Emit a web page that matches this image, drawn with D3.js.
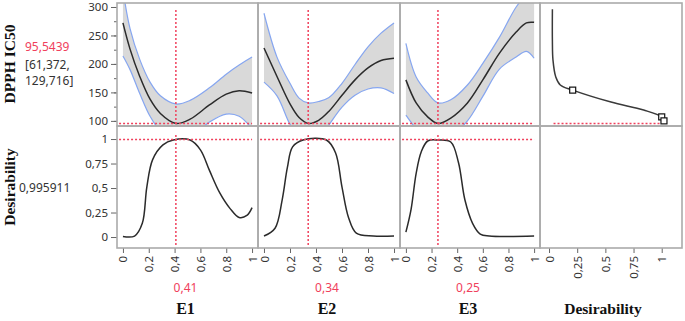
<!DOCTYPE html>
<html>
<head>
<meta charset="utf-8">
<script src="https://cdn.jsdelivr.net/npm/d3@7"></script>
<style>
  body { margin: 0; background: #fff; }
  .tick text { font-family: "Noto Sans", sans-serif; font-size: 11.5px; fill: #333; }
  .tick line { stroke: #666; }
  .bold-label { font-family: "Liberation Serif", serif; font-weight: bold; fill: #111; }
  .val { font-family: "Noto Sans", sans-serif; font-size: 12px; fill: #333; }
</style>
</head>
<body>
<div id="profiler"></div>
<script>
// factor names and current settings
const factors = ["E1", "E2", "E3"];
const current = [0.41, 0.34, 0.25];
const currentLabels = ["0,41", "0,34", "0,25"];
const predicted = 95.5439;
const predictedCI = ["[61,372,", "129,716]"];
const desirNow = 0.995911;

// prediction traces (x, DPPH IC50)
const e1X = [0, 0.055, 0.13, 0.21, 0.29, 0.41, 0.52, 0.67, 0.8, 0.9, 1.0];
const e1Mean = [272, 226, 178, 138, 113, 95.5, 103, 128, 147, 153, 149];
const e1Hi = [330, 262, 208, 168, 144, 129.7, 136, 158, 182, 198, 212];
const e1Lo = [214, 190, 148, 108, 82, 61.4, 70, 98, 112, 108, 86];

const e2X = [0, 0.1, 0.2, 0.27, 0.34, 0.42, 0.5, 0.6, 0.7, 0.8, 0.9, 1.0];
const e2Mean = [228, 178, 130, 106, 95.5, 101, 117, 145, 172, 193, 206, 210];
const e2Hi = [289, 212, 166, 140, 131.5, 134, 141, 166, 199, 230, 254, 272];
const e2Lo = [168, 144, 94, 72, 59.6, 68, 93, 124, 145, 156, 158, 148];

const e3X = [0, 0.08, 0.17, 0.25, 0.35, 0.48, 0.6, 0.73, 0.86, 0.94, 1.0];
const e3Mean = [172, 131.5, 107, 95.5, 105, 131.5, 172, 219, 256, 272, 273];
const e3Hi = [236, 177, 149, 131.5, 137, 163, 201, 247, 300, 322, 336];
const e3Lo = [110, 86, 65, 59.6, 73, 100, 143, 191, 212, 222, 210];

// desirability traces (x, desirability)
const d1X = [0, 0.09, 0.15, 0.185, 0.23, 0.31, 0.39, 0.52, 0.6, 0.67, 0.75, 0.83, 0.9, 0.96, 1.0];
const d1Y = [0.005, 0.01, 0.14, 0.51, 0.79, 0.94, 0.99, 0.99, 0.89, 0.68, 0.45, 0.29, 0.2, 0.22, 0.3];
const d2X = [0, 0.085, 0.14, 0.18, 0.22, 0.3, 0.48, 0.55, 0.6, 0.65, 0.71, 0.84, 1.0];
const d2Y = [0.01, 0.09, 0.38, 0.71, 0.92, 0.99, 0.99, 0.86, 0.51, 0.2, 0.04, 0.01, 0.01];
const d3X = [0, 0.04, 0.08, 0.12, 0.17, 0.25, 0.35, 0.41, 0.46, 0.52, 0.58, 0.65, 1.0];
const d3Y = [0.05, 0.28, 0.65, 0.87, 0.98, 0.99, 0.97, 0.76, 0.38, 0.14, 0.03, 0.01, 0.01];

// desirability function (desirability, DPPH IC50)
const dfD = [0.03, 0.03, 0.035, 0.06, 0.1, 0.21, 0.55, 0.84, 1.0, 1.02];
const dfV = [296, 240, 207, 177, 163, 154, 133, 119, 107, 100];
const dfHandles = [[0.21, 154], [1.0, 107], [1.02, 100]];

const yTopTicks = [100, 150, 200, 250, 300];
const yBotTicks = [0, 0.25, 0.5, 0.75, 1];
const xTicks = [0, 0.2, 0.4, 0.6, 0.8, 1];
const xDTicks = [0, 0.25, 0.5, 0.75, 1];

const traces = [
  { x: e1X, mean: e1Mean, hi: e1Hi, lo: e1Lo, dx: d1X, dy: d1Y },
  { x: e2X, mean: e2Mean, hi: e2Hi, lo: e2Lo, dx: d2X, dy: d2Y },
  { x: e3X, mean: e3Mean, hi: e3Hi, lo: e3Lo, dx: d3X, dy: d3Y },
];

const width = 685, height = 321;
const cols = [[117, 258], [258, 400], [400, 540], [540, 682]];
const top0 = 3, mid = 126, bot = 248;
const red = "#f0405c";

const svg = d3.select("#profiler").append("svg")
  .attr("width", width).attr("height", height);

const comma = (d) => String(d).replace(".", ",");
const smooth = d3.curveCatmullRom.alpha(0.5);

const yTop = d3.scaleLinear().domain([91, 307]).range([mid, top0]);
const yBot = d3.scaleLinear().domain([-0.112, 1.133]).range([bot, mid]);
const xD = d3.scaleLinear().domain([-0.08, 1.18]).range([cols[3][0], cols[3][1]]);

// left axes
svg.append("g")
  .attr("transform", `translate(${cols[0][0]},0)`)
  .call(d3.axisLeft(yTop).tickValues(d3.range(100, 301, 25)).tickSize(0).tickFormat(""))
  .call((g) => g.select(".domain").remove())
  .selectAll(".tick line").attr("x2", -3);
svg.append("g")
  .attr("transform", `translate(${cols[0][0]},0)`)
  .call(d3.axisLeft(yTop).tickValues(yTopTicks).tickSize(6).tickFormat(comma))
  .call((g) => g.select(".domain").remove());
svg.append("g")
  .attr("transform", `translate(${cols[0][0]},0)`)
  .call(d3.axisLeft(yBot).tickValues(yBotTicks).tickSize(6).tickFormat(comma))
  .call((g) => g.select(".domain").remove());

// one column per factor
traces.forEach((t, i) => {
  const [x0, x1] = cols[i];
  const x = d3.scaleLinear().domain([-0.046, 1.046]).range([x0, x1]);
  const pts = t.x.map((v, k) => ({ x: v, m: t.mean[k], hi: t.hi[k], lo: t.lo[k] }));

  svg.append("clipPath").attr("id", "clip" + i)
    .append("rect").attr("x", x0).attr("y", top0).attr("width", x1 - x0).attr("height", mid - top0);

  const g = svg.append("g").attr("clip-path", `url(#clip${i})`);

  g.append("path").datum(pts)
    .attr("fill", "#d9d9d9")
    .attr("d", d3.area().curve(smooth).x((d) => x(d.x)).y0((d) => yTop(d.lo)).y1((d) => yTop(d.hi)));
  ["hi", "lo"].forEach((k) => {
    g.append("path").datum(pts)
      .attr("fill", "none").attr("stroke", "#86a6f0").attr("stroke-width", 1.2)
      .attr("d", d3.line().curve(smooth).x((d) => x(d.x)).y((d) => yTop(d[k])));
  });
  g.append("path").datum(pts)
    .attr("fill", "none").attr("stroke", "#2b2b2b").attr("stroke-width", 1.5)
    .attr("d", d3.line().curve(smooth).x((d) => x(d.x)).y((d) => yTop(d.m)));

  // desirability trace
  const dp = t.dx.map((v, k) => [v, t.dy[k]]);
  svg.append("path").datum(dp)
    .attr("fill", "none").attr("stroke", "#2b2b2b").attr("stroke-width", 1.5)
    .attr("d", d3.line().curve(smooth).x((d) => x(d[0])).y((d) => yBot(d[1])));

  // red cross hairs
  const addLine = (a, b, c, d) => svg.append("line")
    .attr("x1", a).attr("y1", b).attr("x2", c).attr("y2", d)
    .attr("stroke", red).attr("stroke-width", 1.5).attr("stroke-dasharray", "2,2");
  addLine(x(current[i]), top0 + 7, x(current[i]), mid - 1);
  addLine(x(-0.03), yTop(predicted), x(1.0), yTop(predicted));
  addLine(x(current[i]), mid + 9, x(current[i]), bot - 3);
  addLine(x(-0.03), yBot(desirNow), x(1.0), yBot(desirNow));

  // bottom axis
  svg.append("g")
    .attr("transform", `translate(0,${bot})`)
    .call(d3.axisBottom(x).tickValues(xTicks).tickSize(5).tickFormat(comma))
    .call((a) => a.select(".domain").remove())
    .selectAll("text")
    .attr("transform", "rotate(-90)")
    .attr("x", -8).attr("y", 0).attr("dy", "0.35em")
    .style("text-anchor", "end");

  svg.append("text").attr("class", "val")
    .attr("x", (x0 + x1) / 2 - 2).attr("y", 292)
    .attr("text-anchor", "middle").style("fill", red)
    .text(currentLabels[i]);
  svg.append("text").attr("class", "bold-label")
    .attr("x", (x0 + x1) / 2 - 2).attr("y", 314)
    .attr("text-anchor", "middle").style("font-size", "16px")
    .text(factors[i]);
});

// desirability function panel
const dfp = dfD.map((v, k) => [v, dfV[k]]);
svg.append("path").datum(dfp)
  .attr("fill", "none").attr("stroke", "#3a3a3a").attr("stroke-width", 1.5)
  .attr("d", d3.line().curve(smooth).x((d) => xD(d[0])).y((d) => yTop(d[1])));
svg.append("line")
  .attr("x1", xD(0.04)).attr("x2", xD(desirNow))
  .attr("y1", yTop(predicted)).attr("y2", yTop(predicted))
  .attr("stroke", red).attr("stroke-width", 1.5).attr("stroke-dasharray", "2,2");
svg.selectAll(".handle").data(dfHandles).join("rect")
  .attr("class", "handle")
  .attr("x", (d) => xD(d[0]) - 3).attr("y", (d) => yTop(d[1]) - 3)
  .attr("width", 6).attr("height", 6)
  .attr("fill", "#fff").attr("stroke", "#111").attr("stroke-width", 1.2);

svg.append("g")
  .attr("transform", `translate(0,${bot})`)
  .call(d3.axisBottom(xD).tickValues(xDTicks).tickSize(5).tickFormat(comma))
  .call((a) => a.select(".domain").remove())
  .selectAll("text")
  .attr("transform", "rotate(-90)")
  .attr("x", -8).attr("y", 0).attr("dy", "0.35em")
  .style("text-anchor", "end");

svg.append("text").attr("class", "bold-label")
  .attr("x", 603).attr("y", 314).attr("text-anchor", "middle")
  .style("font-size", "15.5px").text("Desirability");

// panel frames
cols.forEach(([x0, x1]) => {
  [[top0, mid], [mid, bot]].forEach(([y0, y1]) => {
    svg.append("rect")
      .attr("x", x0).attr("y", y0).attr("width", x1 - x0).attr("height", y1 - y0)
      .attr("fill", "none").attr("stroke", "#ababab").attr("stroke-width", 1.6);
  });
});

// row labels
svg.append("text").attr("class", "bold-label")
  .attr("transform", "translate(15,64) rotate(-90)")
  .attr("text-anchor", "middle").style("font-size", "15.5px")
  .text("DPPH IC50");
svg.append("text").attr("class", "bold-label")
  .attr("transform", "translate(15,187) rotate(-90)")
  .attr("text-anchor", "middle").style("font-size", "15.5px")
  .text("Desirability");

svg.append("text").attr("class", "val").attr("x", 25).attr("y", 51)
  .style("fill", red).text(comma(predicted));
predictedCI.forEach((s, k) => {
  svg.append("text").attr("class", "val").attr("x", 25).attr("y", 69 + k * 16).text(s);
});
svg.append("text").attr("class", "val").attr("x", 19).attr("y", 192).text(comma(desirNow));
</script>
</body>
</html>
